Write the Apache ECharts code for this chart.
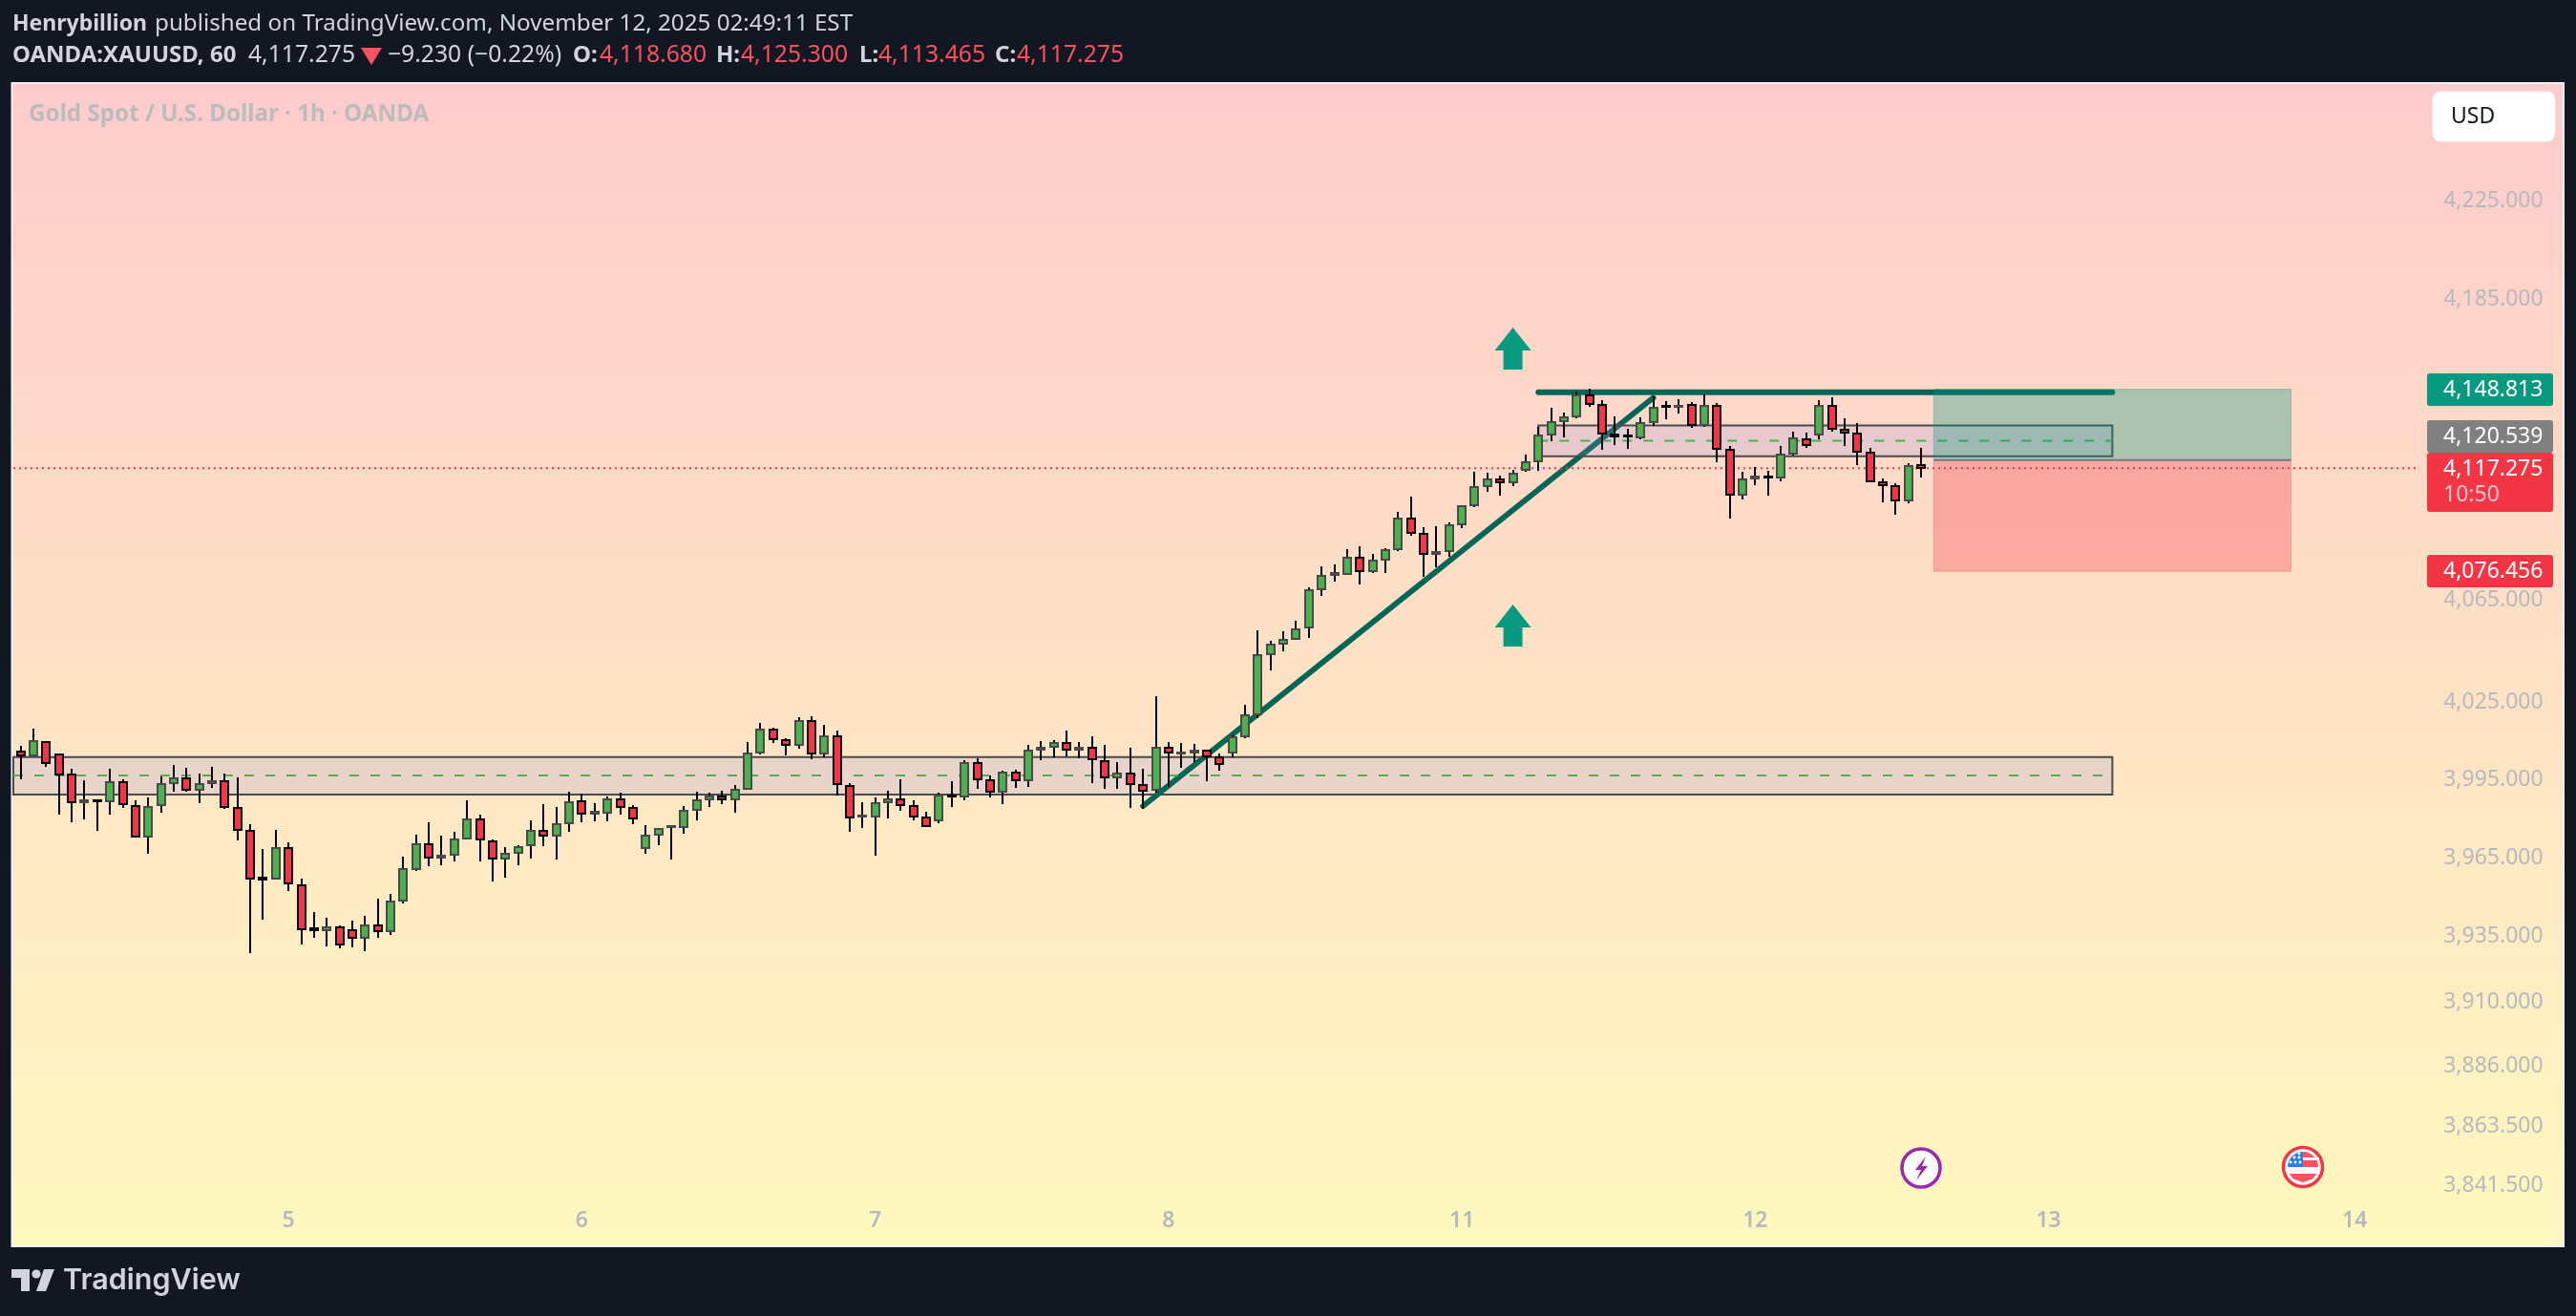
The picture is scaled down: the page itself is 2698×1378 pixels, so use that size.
<!DOCTYPE html>
<html>
<head>
<meta charset="utf-8">
<title>XAUUSD 1h</title>
<script src="https://cdn.jsdelivr.net/npm/echarts@6/dist/echarts.min.js"></script>
<style>
  html, body { margin: 0; padding: 0; background: #131722; }
  #main { width: 2698px; height: 1378px; }
</style>
</head>
<body>
<div id="main"></div>
<script>
// 1h candles
const opens = [
  4006.0,4004.5,4009.7,4004.8,3997.0,3986.5,3987.2,3986.9,3994.2,3985.0,
  3973.2,3985.4,3993.8,3995.7,3991.3,3993.8,3994.6,3984.3,3975.4,3957.5,
  3957.1,3968.8,3954.6,3938.2,3937.5,3938.6,3937.5,3934.6,3939.3,3937.1,
  3948.7,3960.8,3970.3,3965.1,3966.2,3972.5,3979.9,3971.4,3964.8,3967.0,
  3969.9,3975.4,3973.6,3978.4,3986.9,3982.2,3982.4,3987.6,3984.3,3968.8,
  3974.0,3976.9,3976.9,3983.5,3987.6,3988.7,3987.6,3991.6,4005.6,4014.6,
  4010.5,4008.6,4017.9,4005.3,4012.0,3992.7,3980.8,3980.8,3986.5,3987.6,
  3985.0,3980.6,3979.5,3989.1,3988.7,4001.6,3994.9,3990.5,3997.9,3994.9,
  4006.8,4007.9,4009.4,4006.8,4007.5,4002.3,3996.0,3997.5,3993.1,3991.3,
  4007.5,4005.4,4005.6,4006.4,4003.8,4005.6,4012.0,4020.5,4043.9,4048.1,
  4049.9,4054.4,4069.4,4075.2,4075.4,4081.8,4076.5,4081.1,4085.2,4097.3,
  4091.3,4083.3,4084.5,4095.1,4102.6,4110.2,4112.9,4111.7,4116.7,4120.1,
  4130.8,4136.1,4138.0,4146.4,4142.6,4130.8,4130.4,4129.6,4135.7,4142.1,
  4141.9,4142.6,4134.6,4142.2,4124.7,4106.8,4113.2,4114.0,4113.6,4123.1,
  4128.9,4130.8,4142.2,4132.7,4131.2,4123.5,4111.7,4110.2,4104.5,4118.68
];
const closes = [
  4004.5,4010.1,4001.6,3997.2,3986.5,3987.2,3986.9,3994.2,3985.7,3973.2,
  3984.6,3993.5,3995.7,3991.3,3993.5,3994.7,3984.6,3975.8,3957.1,3956.7,
  3968.8,3955.3,3937.8,3937.4,3938.6,3932.0,3934.6,3939.3,3937.1,3948.4,
  3960.8,3970.3,3965.1,3965.9,3972.1,3979.9,3972.1,3964.8,3966.6,3969.2,
  3975.4,3973.6,3978.0,3986.5,3982.1,3982.7,3987.6,3984.6,3980.2,3973.6,
  3976.2,3977.3,3983.2,3987.2,3988.7,3987.6,3991.3,4005.3,4014.6,4010.8,
  4008.6,4017.9,4005.3,4012.0,3993.5,3980.6,3981.2,3986.1,3987.6,3985.4,
  3981.0,3977.3,3989.1,3988.7,4001.6,3995.3,3990.5,3997.9,3994.9,4006.4,
  4007.5,4009.4,4006.8,4007.5,4003.1,3996.0,3997.5,3993.5,3990.9,4007.5,
  4005.6,4005.8,4006.4,4004.2,4001.2,4011.6,4020.2,4043.5,4047.7,4049.6,
  4053.7,4069.1,4074.7,4075.6,4081.8,4076.5,4080.7,4084.9,4097.3,4091.7,
  4083.3,4084.1,4094.7,4102.3,4109.8,4112.9,4111.7,4115.1,4119.7,4130.4,
  4135.7,4137.7,4146.4,4143.0,4131.2,4130.0,4130.0,4135.4,4141.5,4141.7,
  4142.2,4134.6,4142.2,4125.1,4106.8,4112.8,4114.0,4113.6,4122.8,4129.3,
  4126.6,4142.2,4133.1,4131.5,4123.9,4112.1,4110.6,4104.5,4118.2,4117.275
];
const lows = [
  3995.4,4004.2,4000.2,3981.8,3978.9,3980.0,3975.6,3981.8,3984.4,3972.9,
  3966.7,3982.6,3990.5,3990.5,3986.1,3992.0,3983.9,3971.8,3928.7,3941.5,
  3956.7,3952.4,3932.0,3934.6,3931.3,3930.5,3930.9,3929.5,3934.6,3935.6,
  3947.6,3960.0,3961.9,3962.2,3963.7,3972.1,3963.7,3956.0,3957.5,3962.2,
  3964.8,3969.6,3964.4,3975.1,3978.8,3979.1,3979.1,3981.7,3978.0,3966.6,
  3969.9,3964.4,3974.4,3979.5,3984.6,3985.7,3982.5,3991.3,4004.9,4009.4,
  4004.5,4007.1,4003.1,4003.8,3989.1,3975.1,3976.5,3965.9,3980.2,3983.2,
  3979.5,3976.9,3978.4,3984.6,3987.2,3991.6,3988.3,3985.7,3992.0,3992.4,
  4002.7,4003.8,4004.2,4003.4,3993.8,3991.6,3991.6,3984.3,3983.9,3990.2,
  3992.4,3999.7,4001.9,3994.6,3998.6,4003.8,4011.2,4019.0,4037.6,4045.1,
  4049.6,4050.3,4066.8,4072.4,4075.0,4071.3,4075.8,4075.8,4084.5,4090.5,
  4074.3,4078.0,4082.2,4093.6,4101.9,4107.9,4106.4,4110.2,4115.9,4116.3,
  4128.1,4129.6,4137.3,4141.9,4124.7,4126.6,4125.1,4128.9,4134.2,4136.9,
  4139.2,4133.5,4133.8,4119.7,4097.3,4104.9,4110.6,4106.4,4112.1,4122.4,
  4125.4,4128.9,4131.9,4126.2,4118.6,4111.7,4103.8,4098.8,4103.4,4113.465
];
const highs = [
  4008.2,4014.9,4010.1,4005.2,3999.4,3994.9,3987.6,3999.4,3995.3,3987.2,
  3988.3,3996.5,4000.8,3999.7,3997.5,4000.1,3997.5,3996.0,3978.0,3968.4,
  3975.8,3971.0,3957.1,3944.4,3942.2,3939.3,3941.1,3942.9,3949.5,3951.3,
  3965.5,3974.0,3978.8,3973.6,3975.1,3987.2,3981.7,3972.1,3969.2,3969.9,
  3979.5,3985.7,3984.6,3990.5,3989.8,3986.1,3988.6,3990.2,3985.4,3977.6,
  3976.5,3977.6,3985.0,3990.5,3990.2,3990.9,3993.1,4009.7,4017.2,4015.3,
  4011.2,4019.4,4019.8,4016.4,4014.2,3993.8,3986.5,3988.3,3990.9,3995.3,
  3987.2,3982.8,3990.2,3994.6,4002.7,4003.4,3996.8,3998.6,3999.0,4008.6,
  4010.1,4010.5,4014.2,4009.7,4012.0,4008.6,4002.0,4007.5,3999.4,4027.5,
  4009.7,4009.4,4009.0,4006.8,4005.3,4012.3,4024.2,4053.3,4049.2,4052.9,
  4057.1,4070.2,4078.4,4079.2,4085.2,4086.4,4083.3,4085.6,4100.0,4106.1,
  4093.9,4094.3,4095.8,4102.6,4115.9,4115.5,4114.4,4116.7,4122.8,4133.8,
  4141.5,4139.6,4148.0,4149.1,4144.5,4138.0,4133.1,4137.7,4146.1,4144.1,
  4144.9,4143.8,4146.8,4143.4,4126.2,4115.9,4117.8,4116.3,4126.2,4131.9,
  4131.5,4144.5,4145.7,4137.3,4135.4,4125.4,4113.2,4111.3,4119.3,4125.3
];

// axes
const barCount = 200;
const dayIndexes = [21, 44, 67, 90, 113, 136, 159, 183];
const dayLabels = ['5', '6', '7', '8', '11', '12', '13', '14'];
const priceTicks = [4225, 4185, 4065, 4025, 3995, 3965, 3935, 3910, 3886, 3863.5, 3841.5];
const priceMin = 3818.96;
const priceMax = 4273.05;

// drawings: [from bar, top, to bar, bottom]
const lowerBand = [[0, 4003.9, 164, 3989.4]];
const upperBand = [[119, 4134.3, 164, 4122.0]];
const longBox = [[150, 4148.813, 178, 4120.539]];
const shortBox = [[150, 4120.539, 178, 4076.456]];
// [from bar, price, to bar, price]
const bandMidLines = [[0, 3996.8, 164, 3996.8], [119, 4128.2, 164, 4128.2]];
const trendLine = [[88, 3985.0, 128, 4145.4]];
const resistanceLine = [[119, 4147.6, 164, 4147.6]];
const lastPriceLine = [[0, 4117.275, 188, 4117.275]];
const boxMidLine = [[150, 4120.539, 178, 4120.539]];
const arrowBars = [117, 117];
const arrowPrices = [4165.2, 4055.1];

const FONT = '"Noto Sans", sans-serif';
const TEXT = '#d1d4dc';
const RED = '#f23645';
const TEAL = '#089981';
const CANDLE_UP = '#4caf50';
const UP_BORDER = '#4a4a4a';
const BAND_FILL = 'rgba(144,140,225,0.2)';

const categories = [];
for (let i = 0; i < barCount; i++) {
  const pos = dayIndexes.indexOf(i);
  categories.push(pos >= 0 ? dayLabels[pos] : '');
}

const candleData = opens.map((o, i) => [i, o, closes[i], lows[i], highs[i]]);

// wicks are always black, body border depends on direction, so candles are drawn by hand
function renderCandle(params, api) {
  const x = Math.round(api.coord([api.value(0), api.value(1)])[0]);
  const o = api.value(1);
  const c = api.value(2);
  const top = Math.round(api.coord([api.value(0), Math.max(o, c)])[1]);
  const bot = Math.round(api.coord([api.value(0), Math.min(o, c)])[1]);
  const hi = Math.round(api.coord([api.value(0), api.value(4)])[1]);
  const lo = Math.round(api.coord([api.value(0), api.value(3)])[1]);
  const up = c >= o;
  const children = [
    { type: 'rect', shape: { x: x - 1, y: hi, width: 2, height: lo - hi }, style: { fill: '#000000' } },
    { type: 'rect', shape: { x: x - 5, y: top - 1, width: 10, height: bot - top + 2 }, style: { fill: up ? UP_BORDER : '#000000' } }
  ];
  if (bot - top > 2) {
    children.push({ type: 'rect', shape: { x: x - 3, y: top + 1, width: 6, height: bot - top - 2 }, style: { fill: up ? CANDLE_UP : RED } });
  }
  return { type: 'group', children: children };
}

function boxSeries(items, style, z) {
  return {
    type: 'custom',
    z: z,
    silent: true,
    data: items.map(d => [d[0], d[1]]),
    renderItem: function (params, api) {
      const d = items[params.dataIndex];
      const a = api.coord([d[0], d[1]]);
      const b = api.coord([d[2], d[3]]);
      const x0 = d[0] === 0 ? 14 : a[0];
      return { type: 'rect', shape: { x: x0, y: a[1], width: b[0] - x0, height: b[1] - a[1] }, style: style };
    }
  };
}

function lineSeries(items, style, z) {
  return {
    type: 'custom',
    z: z,
    silent: true,
    data: items.map(d => [d[0], d[1]]),
    renderItem: function (params, api) {
      const d = items[params.dataIndex];
      const a = api.coord([d[0], d[1]]);
      const b = api.coord([d[2], d[3]]);
      const x0 = d[0] === 0 ? 14 : a[0];
      return { type: 'line', shape: { x1: x0, y1: a[1], x2: b[0], y2: b[1] }, style: style };
    }
  };
}

function label(text, x, y, color, size, weight, family) {
  return {
    type: 'text', z: 100, silent: true, x: x, y: y,
    style: { text: text, fill: color, font: (weight || 'normal') + ' ' + size + 'px ' + (family || FONT), verticalAlign: 'middle' }
  };
}

function priceTag(y, h, color, text) {
  return [
    { type: 'rect', z: 99, silent: true, shape: { x: 2542, y: y, width: 132, height: h, r: 3 }, style: { fill: color } },
    label(text, 2559, y + 17, '#ffffff', 23)
  ];
}

// header, position tags, logo and event icons sit outside the scales
const headerParts = [
  ['Henrybillion', 13, 25, TEXT, 23, 'bold'],
  ['published on TradingView.com, November 12, 2025 02:49:11 EST', 162, 25, TEXT, 24.2],
  ['OANDA:XAUUSD, 60', 13, 58, TEXT, 24, 'bold'],
  ['4,117.275', 260, 58, TEXT, 24.7],
  ['\u22129.230 (\u22120.22%)', 406, 58, TEXT, 24.7],
  ['O:', 600, 58, TEXT, 24, 'bold'], ['4,118.680', 628, 58, '#f7525f', 24.7],
  ['H:', 750, 58, TEXT, 24, 'bold'], ['4,125.300', 776, 58, '#f7525f', 24.7],
  ['L:', 900, 58, TEXT, 24, 'bold'], ['4,113.465', 920, 58, '#f7525f', 24.7],
  ['C:', 1042, 58, TEXT, 24, 'bold'], ['4,117.275', 1065, 58, '#f7525f', 24.7]
];

const graphics = [
  {
    type: 'rect', z: -5, silent: true,
    shape: { x: 12.5, y: 87, width: 2672.5, height: 1218 },
    style: {
      fill: new echarts.graphic.LinearGradient(0, 0, 0, 1, [
        { offset: 0, color: '#fdcbcc' },
        { offset: 1, color: '#fff8bf' }
      ]),
      stroke: '#f0f3fa', lineWidth: 2
    }
  },
  { type: 'polygon', z: 100, silent: true, shape: { points: [[378, 50], [400, 50], [389, 68]] }, style: { fill: '#f7525f' } },
  label('Gold Spot / U.S. Dollar \u00b7 1h \u00b7 OANDA', 30, 120, '#bcbcbc', 24.2, 'bold'),

  // currency button
  { type: 'rect', z: 99, silent: true, shape: { x: 2548, y: 96, width: 128, height: 52, r: 8 }, style: { fill: '#ffffff', stroke: '#f0f3fa', lineWidth: 1 } },
  label('USD', 2567, 122, '#131722', 23),

  // logo
  { type: 'polygon', z: 100, silent: true, shape: { points: [[12, 1329], [31, 1329], [31, 1352], [22, 1352], [22, 1338], [12, 1338]] }, style: { fill: TEXT } },
  { type: 'circle', z: 100, silent: true, shape: { cx: 38, cy: 1334, r: 4.6 }, style: { fill: TEXT } },
  { type: 'polygon', z: 100, silent: true, shape: { points: [[46, 1329], [57, 1329], [48, 1352], [38, 1352]] }, style: { fill: TEXT } },
  label('TradingView', 66, 1341, TEXT, 30.5, '600', 'Inter, sans-serif'),

  // lightning event
  { type: 'circle', z: 90, silent: true, shape: { cx: 2012, cy: 1223, r: 20 }, style: { fill: '#ffffff', stroke: '#9c27b0', lineWidth: 3.5 } },
  { type: 'polygon', z: 91, silent: true, shape: { points: [[2017, 1211], [2006, 1225], [2012, 1225], [2007, 1236], [2019, 1221], [2013, 1221]] }, style: { fill: '#9c27b0' } },

  // US flag event
  { type: 'circle', z: 90, silent: true, shape: { cx: 2412, cy: 1222, r: 20.5 }, style: { fill: '#ffffff', stroke: RED, lineWidth: 3.5 } },
  { type: 'sector', z: 91, silent: true, shape: { cx: 2412, cy: 1222, r: 16, startAngle: -Math.PI / 2, endAngle: 0 }, style: { fill: '#f7525f' } },
  { type: 'rect', z: 92, silent: true, shape: { x: 2412, y: 1212, width: 17, height: 3 }, style: { fill: '#ffffff' } },
  { type: 'sector', z: 93, silent: true, shape: { cx: 2412, cy: 1222, r: 16, startAngle: -Math.PI, endAngle: -Math.PI / 2 }, style: { fill: '#2a7fe8' } },
  { type: 'polygon', z: 91, silent: true, shape: { points: [[2397.6, 1229], [2426.4, 1229], [2422, 1234.5], [2412, 1238], [2402, 1234.5]] }, style: { fill: '#f7525f' } }
];

// stars on the flag canton
[[2403, 1212], [2408, 1212], [2399, 1217], [2404, 1217], [2409, 1217], [2408, 1208]].forEach(p => {
  graphics.push({ type: 'circle', z: 94, silent: true, shape: { cx: p[0], cy: p[1], r: 1.4 }, style: { fill: '#ffffff' } });
});

headerParts.forEach(p => graphics.push(label(p[0], p[1], p[2], p[3], p[4], p[5])));
graphics.push(...priceTag(391, 34, TEAL, '4,148.813'));
graphics.push(...priceTag(440, 34, '#808080', '4,120.539'));
graphics.push(...priceTag(474, 62, RED, '4,117.275'));
graphics.push(label('10:50', 2559, 518, 'rgba(255,255,255,0.7)', 23));
graphics.push(...priceTag(581, 34, RED, '4,076.456'));

const option = {
  backgroundColor: '#131722',
  animation: false,
  grid: { left: 15, top: 88, width: 2671.6, height: 1217, containLabel: false },
  xAxis: {
    type: 'category',
    data: categories,
    boundaryGap: true,
    axisLine: { show: false },
    axisTick: { show: false },
    splitLine: { show: false },
    axisLabel: {
      inside: true, interval: 0, margin: 15, hideOverlap: false,
      color: '#b8b9bf', fontFamily: FONT, fontSize: 23, fontWeight: 600
    }
  },
  yAxis: {
    type: 'log',
    logBase: 10,
    position: 'right',
    min: priceMin,
    max: priceMax,
    axisLine: { show: false },
    axisTick: { show: false },
    splitLine: { show: false },
    minorTick: { show: false },
    minorSplitLine: { show: false },
    axisLabel: {
      inside: true, margin: 23,
      customValues: priceTicks,
      color: '#b8b9bf', fontFamily: FONT, fontSize: 23,
      formatter: v => Number(v).toLocaleString('en-US', { minimumFractionDigits: 3, maximumFractionDigits: 3 })
    }
  },
  graphic: { elements: graphics },
  series: [
    boxSeries(lowerBand, { fill: BAND_FILL, stroke: '#4a4a4a', lineWidth: 2 }, 1),
    lineSeries(trendLine, { stroke: '#056656', lineWidth: 6, lineCap: 'round' }, 2),
    lineSeries(resistanceLine, { stroke: '#056656', lineWidth: 6, lineCap: 'round' }, 2),
    boxSeries(upperBand, { fill: BAND_FILL, stroke: '#4a4a4a', lineWidth: 2 }, 3),
    lineSeries(bandMidLines, { stroke: '#4caf50', lineWidth: 2, lineDash: [10, 12] }, 3),
    boxSeries(longBox, { fill: 'rgba(8,153,129,0.33)', stroke: 'rgba(8,153,129,0.35)', lineWidth: 1 }, 4),
    boxSeries(shortBox, { fill: 'rgba(242,54,69,0.3)', stroke: 'rgba(242,54,69,0.3)', lineWidth: 1 }, 4),
    lineSeries(boxMidLine, { stroke: '#787b86', lineWidth: 2 }, 4),
    lineSeries(lastPriceLine, { stroke: RED, lineWidth: 2, lineDash: [2, 4] }, 5),
    {
      type: 'custom',
      z: 6,
      silent: true,
      data: candleData,
      encode: { x: 0, y: [1, 2, 3, 4] },
      renderItem: renderCandle
    },
    {
      type: 'scatter',
      z: 8,
      silent: true,
      symbol: 'path://M19 0 L38 24 L29 24 L29 44 L9 44 L9 24 L0 24 Z',
      symbolSize: [38, 44],
      symbolKeepAspect: false,
      itemStyle: { color: TEAL, opacity: 1 },
      data: arrowBars.map((b, i) => [b, arrowPrices[i]])
    }
  ]
};

const chart = echarts.init(document.getElementById('main'));
chart.setOption(option);
</script>
</body>
</html>
